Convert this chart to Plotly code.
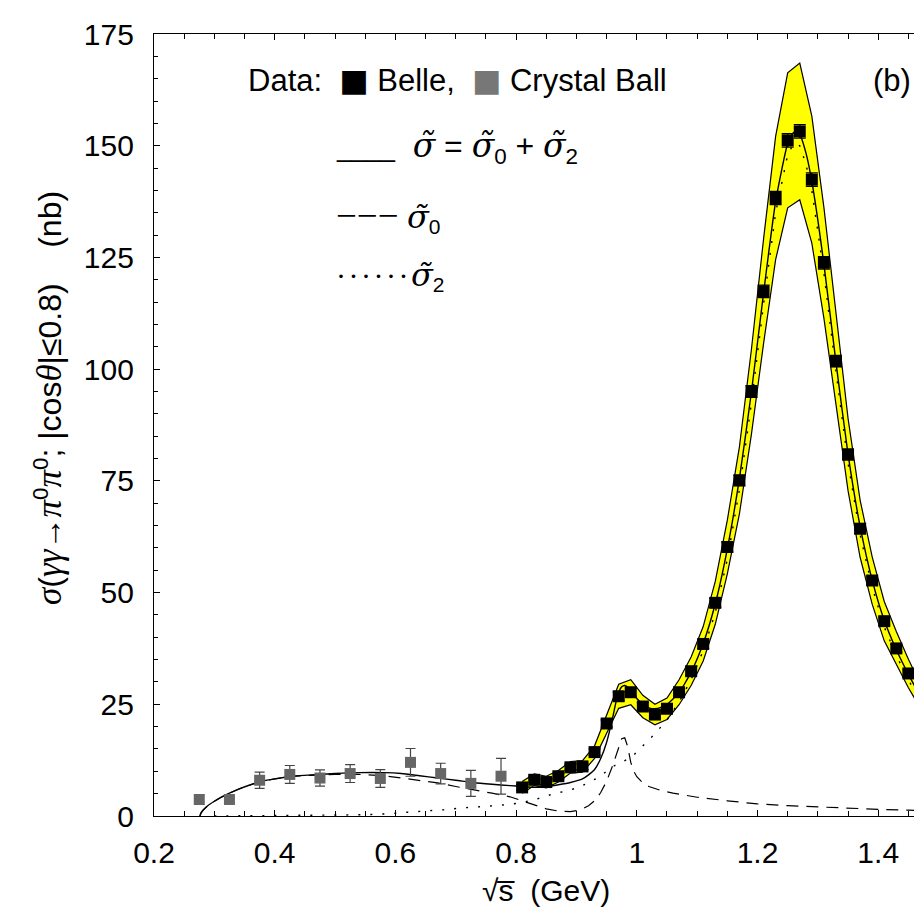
import plotly.graph_objects as go

# ---------------- data ----------------
cb_x = [0.275, 0.325, 0.375, 0.425, 0.475, 0.525, 0.575, 0.625, 0.675, 0.725, 0.775]
cb_y = [3.7, 3.7, 8.0, 9.3, 8.5, 9.5, 8.4, 12.0, 9.5, 7.3, 8.9]
cb_err = [1.1, 0.7, 1.8, 2.0, 1.8, 2.0, 2.0, 3.1, 2.3, 2.9, 4.0]

belle_x = [0.81, 0.83, 0.85, 0.87, 0.89, 0.91, 0.93, 0.95, 0.97, 0.99,
           1.01, 1.03, 1.05, 1.07, 1.09, 1.11, 1.13, 1.15, 1.17, 1.19,
           1.21, 1.23, 1.25, 1.27, 1.29, 1.31, 1.33, 1.35, 1.37, 1.39,
           1.41, 1.43, 1.45, 1.47, 1.49]
belle_y = [6.4, 8.1, 7.6, 8.9, 10.9, 11.1, 14.3, 20.7, 26.8, 27.7,
           24.5, 22.7, 24.0, 27.7, 32.4, 38.5, 47.7, 60.2, 75.1, 95.0,
           117.4, 138.3, 151.2, 153.2, 142.4, 123.8, 101.8, 80.9, 64.3, 52.7,
           43.6, 37.5, 31.9, 26.8, 21.6]
belle_err = [0.6, 0.6, 0.6, 0.6, 0.7, 0.7, 0.7, 0.8, 0.9, 0.9,
             0.9, 0.8, 0.8, 0.9, 0.9, 1.0, 1.0, 1.1, 1.2, 1.3,
             1.4, 1.5, 1.5, 1.5, 1.5, 1.4, 1.3, 1.2, 1.1, 1.0,
             0.9, 0.9, 0.8, 0.8, 0.7]
band_lo = [5.1, 6.8, 6.3, 7.6, 9.6, 9.8, 12.9, 18.6, 24.1, 24.9,
           22.0, 20.4, 21.6, 24.9, 29.2, 34.7, 42.9, 54.2, 67.6, 85.5,
           105.7, 124.5, 136.1, 137.9, 128.2, 111.4, 91.6, 72.8, 57.9, 47.4,
           39.2, 33.8, 28.7, 24.1, 19.4]
band_hi = [7.7, 9.4, 8.9, 10.2, 12.2, 12.4, 15.7, 22.8, 29.5, 30.5,
           27.0, 25.0, 26.4, 30.5, 35.6, 42.4, 52.5, 66.2, 82.6, 104.5,
           129.1, 152.1, 166.3, 168.5, 156.6, 136.2, 112.0, 89.0, 70.7, 58.0,
           48.0, 41.3, 35.1, 29.5, 23.8]

tot_x = [0.276, 0.278, 0.282, 0.29, 0.30, 0.31, 0.325, 0.34, 0.36, 0.38, 0.40, 0.43,
         0.46, 0.50, 0.54, 0.58, 0.61, 0.64, 0.67, 0.70, 0.73, 0.76, 0.79, 0.81,
         0.83, 0.85, 0.87, 0.89, 0.91, 0.92, 0.93, 0.94, 0.95, 0.96, 0.965, 0.97,
         0.975, 0.98, 0.985, 0.99, 1.00, 1.01, 1.02, 1.03, 1.04, 1.05, 1.07, 1.09,
         1.11, 1.13, 1.15, 1.17, 1.19, 1.21, 1.23, 1.25, 1.26, 1.27, 1.28, 1.29,
         1.31, 1.33, 1.35, 1.37, 1.39, 1.41, 1.43, 1.45, 1.47, 1.49]
tot_y = [0.0, 0.7, 1.4, 2.4, 3.3, 4.1, 5.1, 6.0, 7.0, 7.8, 8.3, 8.9,
         9.2, 9.5, 9.7, 9.7, 9.5, 9.0, 8.5, 8.0, 7.45, 7.1, 6.8, 6.6,
         6.4, 6.6, 7.0, 7.5, 8.3, 9.2, 10.4, 12.8, 16.5, 22.0, 25.2, 27.6,
         28.9, 29.2, 28.8, 28.0, 26.3, 25.0, 24.2, 24.0, 24.3, 25.0, 27.6, 32.2,
         38.6, 47.5, 59.8, 75.5, 95.0, 117.0, 137.5, 150.5, 153.0, 152.5, 148.5, 142.0,
         123.5, 101.5, 81.0, 64.8, 52.8, 43.8, 37.2, 31.7, 26.7, 21.8]

s0_x = [0.276, 0.278, 0.282, 0.29, 0.30, 0.31, 0.325, 0.34, 0.36, 0.38, 0.40, 0.43,
        0.46, 0.50, 0.54, 0.58, 0.61, 0.64, 0.67, 0.70, 0.73, 0.76, 0.79, 0.81,
        0.83, 0.85, 0.87, 0.89, 0.90, 0.91, 0.92, 0.93, 0.94, 0.95, 0.96, 0.97,
        0.975, 0.98, 0.985, 0.99, 0.995, 1.00, 1.01, 1.02, 1.04, 1.06, 1.08, 1.10,
        1.15, 1.20, 1.25, 1.30, 1.35, 1.40, 1.45, 1.49]
s0_y = [0.0, 0.7, 1.4, 2.4, 3.3, 4.1, 5.1, 6.0, 7.0, 7.8, 8.3, 8.85,
        9.1, 9.3, 9.3, 9.0, 8.5, 8.0, 7.4, 6.6, 5.9, 5.1, 4.3, 3.4,
        2.4, 1.6, 1.1, 1.0, 1.2, 1.6, 2.3, 3.4, 5.2, 7.8, 11.3, 15.5,
        17.3, 17.5, 15.5, 12.0, 10.0, 8.8, 7.4, 6.6, 5.7, 5.1, 4.6, 4.2,
        3.4, 2.7, 2.3, 2.0, 1.7, 1.5, 1.3, 1.2]

s2_x = [0.30, 0.40, 0.465, 0.50, 0.53, 0.56, 0.59, 0.62, 0.65, 0.68, 0.71, 0.74,
        0.77, 0.80, 0.83, 0.86, 0.89, 0.91, 0.94, 0.955, 0.97, 0.99, 1.01, 1.03,
        1.05, 1.07, 1.09, 1.11, 1.13, 1.15, 1.17, 1.19, 1.21, 1.23, 1.25, 1.26,
        1.27, 1.28, 1.29, 1.31, 1.33, 1.35, 1.37, 1.39, 1.41, 1.43, 1.45, 1.47, 1.49]
s2_y = [0.0, 0.05, 0.1, 0.2, 0.25, 0.35, 0.5, 0.85, 1.1, 1.4, 1.8, 2.05,
        2.35, 2.8, 3.6, 4.9, 5.8, 6.8, 8.9, 10.6, 11.8, 13.0, 15.6, 18.4,
        21.5, 25.5, 30.5, 37.0, 45.5, 57.5, 73.0, 92.5, 114.5, 135.0, 148.0, 150.5,
        150.0, 146.0, 140.0, 121.5, 99.5, 79.0, 63.0, 51.2, 42.3, 35.9, 30.5, 25.5, 20.6]

x_range = [0.2, 1.4858]
y_range = [0, 175]

# ---------------- figure ----------------
fig = go.Figure()

fig.add_trace(go.Scatter(x=belle_x, y=band_lo, mode="lines",
                         line=dict(color="black", width=1.2), showlegend=False))
fig.add_trace(go.Scatter(x=belle_x, y=band_hi, mode="lines", fill="tonexty",
                         fillcolor="#ffff00",
                         line=dict(color="black", width=1.2), showlegend=False))

fig.add_trace(go.Scatter(x=s0_x, y=s0_y, mode="lines",
                         line=dict(color="black", width=1.2, dash="12px,8px"),
                         showlegend=False))
fig.add_trace(go.Scatter(x=s2_x, y=s2_y, mode="lines",
                         line=dict(color="black", width=1.4, dash="2px,10px"),
                         showlegend=False))
fig.add_trace(go.Scatter(x=tot_x, y=tot_y, mode="lines", line_shape="spline",
                         line=dict(color="black", width=1.4, smoothing=0.5),
                         showlegend=False))

fig.add_trace(go.Scatter(x=cb_x, y=cb_y, mode="markers",
                         marker=dict(symbol="square", size=11, color="#666666",
                                     line=dict(width=0)),
                         error_y=dict(type="data", array=cb_err, color="#444444",
                                      thickness=1.2, width=5),
                         showlegend=False))
fig.add_trace(go.Scatter(x=belle_x, y=belle_y, mode="markers",
                         marker=dict(symbol="square", size=12, color="black",
                                     line=dict(width=0)),
                         error_y=dict(type="data", array=belle_err, color="black",
                                      thickness=1.2, width=6),
                         showlegend=False))

L, T, R, B = 146, 26, 922, 808
W = R - L
H = B - T


def px(xp):
    return (xp - L) / W


def py(yp):
    return (B - yp) / H


SANS = "Liberation Sans"
NB = "\u00a0"


def sig(size):
    return ("<span style=\"font-family:DejaVu Serif;font-size:" + str(size)
            + "px\"><i>σ̃</i></span>")


sq = "<span style=\"font-family:DejaVu Sans\">■</span>"
sqg = "<span style=\"font-family:DejaVu Sans;color:#777777\">■</span>"


def gk(ch):
    return "<span style=\"font-family:Liberation Serif;font-size:35px\"><i>" + ch + "</i></span>"


ann = [
    dict(x=px(238), y=py(72), xanchor="left", yanchor="middle",
         text="Data:" + NB + NB + sq + " Belle," + NB + NB + sqg + " Crystal Ball",
         font=dict(size=31, family=SANS, color="black")),
    dict(x=px(326), y=py(140), xanchor="left", yanchor="middle",
         text="<span style=\"font-size:26px\">____</span>" + NB + NB + sig(33) + " = " + sig(33)
              + "<sub>0</sub> + " + sig(33) + "<sub>2</sub>",
         font=dict(size=32, family=SANS, color="black")),
    dict(x=px(326), y=py(208), xanchor="left", yanchor="middle",
         text="<span style=\"font-family:Liberation Serif;font-size:37px\">−−−</span> "
              + sig(32) + "<sub>0</sub>",
         font=dict(size=30, family=SANS, color="black")),
    dict(x=px(326), y=py(268), xanchor="left", yanchor="middle",
         text="<span style=\"font-family:Liberation Serif;letter-spacing:2.5px\">······</span>"
              + sig(32) + "<sub>2</sub>",
         font=dict(size=30, family=SANS, color="black")),
    dict(x=px(884), y=py(73), xanchor="center", yanchor="middle",
         text="(b)", font=dict(size=31, family=SANS, color="black")),
    dict(x=px(40), y=py(390), xanchor="center", yanchor="middle", textangle=-90,
         text=gk("σ") + "(" + gk("γγ") + "→" + gk("π") + "<sup>0</sup>" + gk("π")
              + "<sup>0</sup>; |cos" + gk("θ") + "|≤0.8)" + NB * 4 + "(nb)",
         font=dict(size=32, family=SANS, color="black")),
    dict(x=px(538), y=py(882), xanchor="center", yanchor="middle",
         text="√s̅" + NB + NB + "(GeV)", font=dict(size=30, family=SANS, color="black")),
]
for a in ann:
    a.update(xref="paper", yref="paper", showarrow=False)

fig.update_layout(
    width=922, height=910,
    margin=dict(l=L, r=922 - R, t=T, b=910 - B, pad=0),
    paper_bgcolor="white", plot_bgcolor="white",
    annotations=ann,
    showlegend=False,
)
fig.update_xaxes(range=x_range, showgrid=False, zeroline=False,
                 showline=True, linecolor="black", linewidth=1.2, mirror="allticks",
                 ticks="inside", ticklen=6, tickwidth=1.2, tickcolor="black",
                 dtick=0.2, tick0=0.2, ticklabelstandoff=10,
                 minor=dict(dtick=0.05, ticks="inside", ticklen=5, tickwidth=1, tickcolor="black"),
                 tickfont=dict(size=30, family=SANS, color="black"))
fig.update_yaxes(range=y_range, showgrid=False, zeroline=False,
                 showline=True, linecolor="black", linewidth=1.2, mirror=False,
                 ticks="inside", ticklen=6, tickwidth=1.2, tickcolor="black",
                 dtick=25, tick0=0, ticklabelstandoff=13,
                 minor=dict(dtick=5, ticks="inside", ticklen=4, tickwidth=1, tickcolor="black"),
                 tickfont=dict(size=30, family=SANS, color="black"))

fig.write_html("out.html")
